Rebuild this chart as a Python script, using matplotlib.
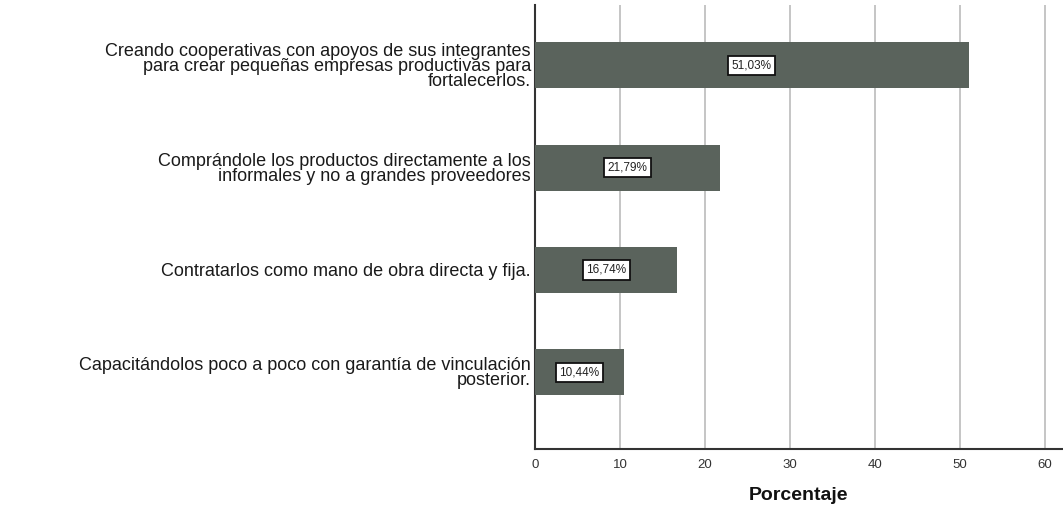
import matplotlib
matplotlib.use("Agg")
import matplotlib.pyplot as plt
import numpy as np

plt.rcParams['font.family'] = ['Liberation Sans', 'DejaVu Sans']

# Datos
categorias = [
    "Creando cooperativas con apoyos de sus integrantes\npara crear pequeñas empresas productivas para\nfortalecerlos.",
    "Comprándole los productos directamente a los\ninformales y no a grandes proveedores",
    "Contratarlos como mano de obra directa y fija.",
    "Capacitándolos poco a poco con garantía de vinculación\nposterior.",
]
porcentajes = [51.03, 21.79, 16.74, 10.44]
etiquetas = ["51,03%", "21,79%", "16,74%", "10,44%"]
ticks_x = [0, 10, 20, 30, 40, 50, 60]

fig = plt.figure(figsize=(10.63, 5.09), dpi=100)
ax = fig.add_axes([535 / 1063, 1 - 449 / 509, (1062 - 535) / 1063, (449 - 5) / 509])

y = np.arange(len(categorias))
ax.barh(y, porcentajes, height=0.45, color='#5a635c', zorder=3)

# etiquetas de valor en caja blanca
for yi, v, lab in zip(y, porcentajes, etiquetas):
    ax.text(v / 2, yi, lab, ha='center', va='center', fontsize=8.5, color='#222222',
            zorder=4,
            bbox=dict(boxstyle='square,pad=0.3', fc='white', ec='#111111', lw=1.3))

ax.set_xlim(0, 62)
ax.set_ylim(3.75, -0.59)
ax.set_xticks(ticks_x)
ax.tick_params(axis='x', labelsize=9.5, length=0, pad=7, colors='#333333')
ax.set_yticks(y)
ax.set_yticklabels(categorias, fontsize=13, linespacing=0.86, color='#1a1a1a')
ax.tick_params(axis='y', length=0, pad=3)

ax.grid(axis='x', color='#bbbbbb', lw=1.2, zorder=0)
for s in ['top', 'right']:
    ax.spines[s].set_visible(False)
ax.spines['left'].set_color('#333333')
ax.spines['left'].set_linewidth(1.5)
ax.spines['bottom'].set_color('#333333')
ax.spines['bottom'].set_linewidth(1.5)

ax.set_xlabel("Porcentaje", fontsize=14, fontweight='bold', labelpad=12, color='#111111')

fig.savefig("out.png", dpi=100)
